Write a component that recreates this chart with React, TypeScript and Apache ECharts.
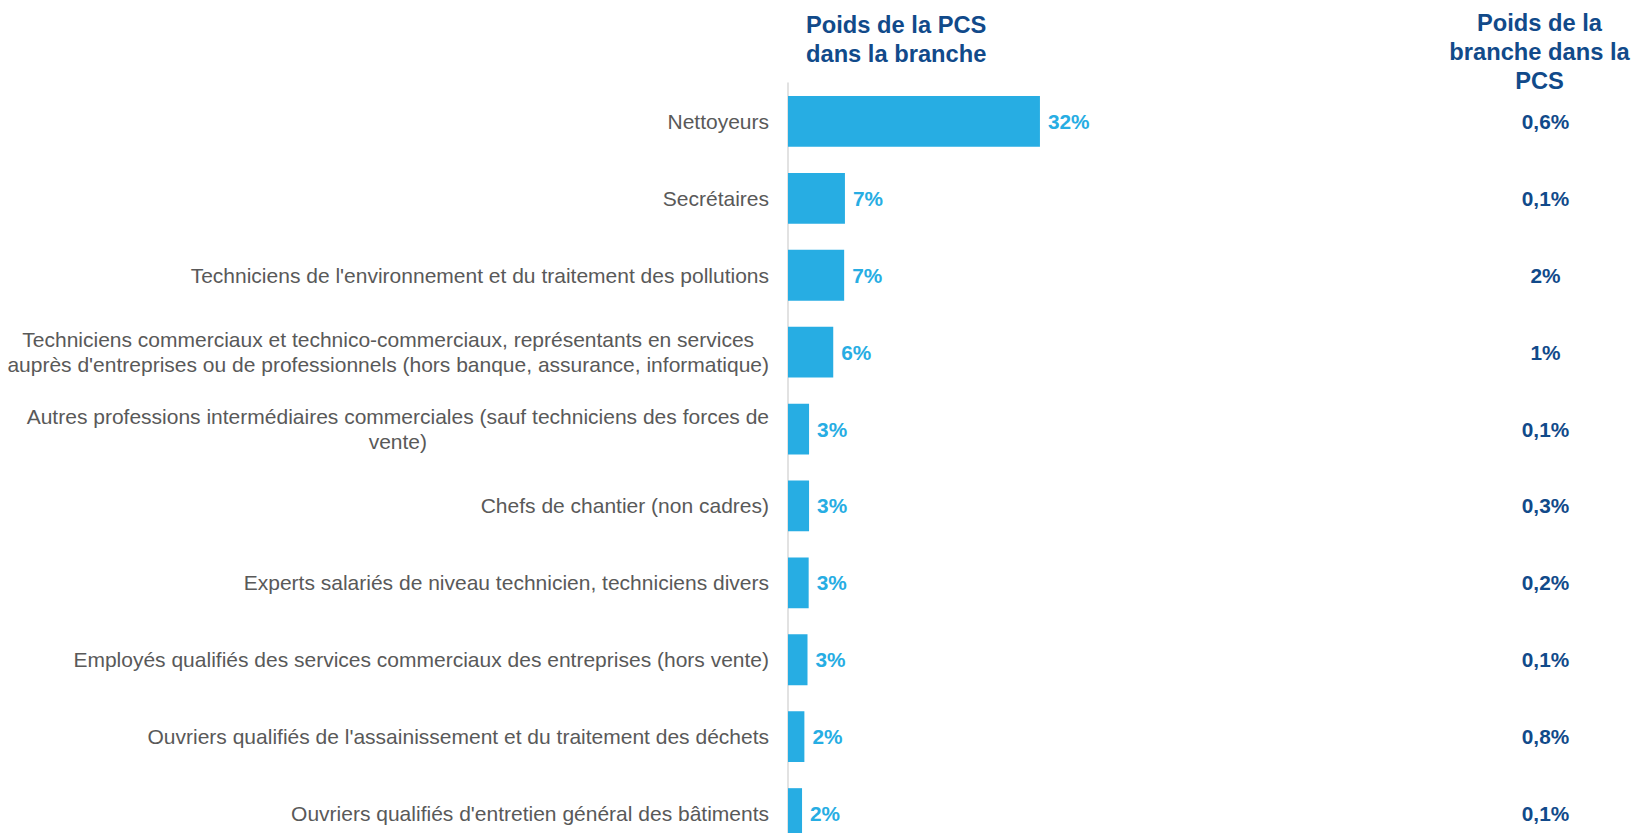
import React, { useEffect, useRef } from "react";
import * as echarts from "echarts";

const categories = [
  "Nettoyeurs",
  "Secrétaires",
  "Techniciens de l'environnement et du traitement des pollutions",
  "Techniciens commerciaux et technico-commerciaux, représentants en services\nauprès d'entreprises ou de professionnels (hors banque, assurance, informatique)",
  "Autres professions intermédiaires commerciales (sauf techniciens des forces de\nvente)",
  "Chefs de chantier (non cadres)",
  "Experts salariés de niveau technicien, techniciens divers",
  "Employés qualifiés des services commerciaux des entreprises (hors vente)",
  "Ouvriers qualifiés de l'assainissement et du traitement des déchets",
  "Ouvriers qualifiés d'entretien général des bâtiments",
];

// Poids de la PCS dans la branche (%)
const pcsInBranche = [32.3, 7.3, 7.2, 5.8, 2.7, 2.7, 2.65, 2.5, 2.1, 1.8];

// Poids de la branche dans la PCS (texte affiché)
const brancheInPcs = ["0,6%", "0,1%", "2%", "1%", "0,1%", "0,3%", "0,2%", "0,1%", "0,8%", "0,1%"];

const header1 = "Poids de la PCS\ndans la branche";
const header2 = "Poids de la\nbranche dans la\nPCS";

const FONT = "'Liberation Sans', Arial, Helvetica, sans-serif";
const DARK_BLUE = "#114A8A";
const BAR_BLUE = "#27ADE3";
const GREY_TEXT = "#595959";

export default function App() {
  const ref = useRef<HTMLDivElement>(null);

  useEffect(() => {
    document.body.style.margin = "0";
    if (!ref.current) return;
    const chart = echarts.init(ref.current, null, { renderer: "svg" });
    chart.setOption({
      animation: false,
      backgroundColor: "#ffffff",
      textStyle: { fontFamily: FONT },
      grid: {
        left: 788,
        top: 83,
        width: 312,
        height: 769,
        containLabel: false,
        outerBoundsMode: "none",
      },
      xAxis: {
        type: "value",
        min: 0,
        max: 40,
        show: false,
      },
      yAxis: [
        {
          type: "category",
          inverse: true,
          data: categories,
          axisLine: { show: true, lineStyle: { color: "#D9D9D9", width: 1.5 } },
          axisTick: { show: false },
          splitLine: { show: false },
          axisLabel: {
            margin: 19,
            align: "right",
            color: GREY_TEXT,
            fontSize: 21,
            fontFamily: FONT,
            lineHeight: 25,
            formatter: (v: string) =>
              v
                .split("\n")
                .map((l) => `{c|${l}}`)
                .join("\n"),
            rich: {
              c: {
                align: "center",
                color: GREY_TEXT,
                fontSize: 21,
                fontFamily: FONT,
                lineHeight: 25,
              },
            },
          },
        },
        {
          type: "category",
          inverse: true,
          position: "right",
          data: brancheInPcs,
          axisLine: { show: false },
          axisTick: { show: false },
          splitLine: { show: false },
          axisLabel: {
            margin: 445.5,
            align: "center",
            color: DARK_BLUE,
            fontSize: 20.8,
            fontWeight: "bold",
            fontFamily: FONT,
          },
        },
      ],
      series: [
        {
          type: "bar",
          yAxisIndex: 0,
          data: pcsInBranche,
          barWidth: "66%",
          itemStyle: { color: BAR_BLUE },
          label: {
            show: true,
            position: "right",
            distance: 8,
            color: BAR_BLUE,
            fontSize: 20.8,
            fontWeight: "bold",
            fontFamily: FONT,
            formatter: (p: any) => `${Math.round(p.value)}%`,
          },
        },
      ],
      graphic: [
        {
          type: "text",
          x: 806,
          y: 10,
          style: {
            text: header1,
            fill: DARK_BLUE,
            fontSize: 23.7,
            fontWeight: "bold",
            fontFamily: FONT,
            lineHeight: 29,
            align: "left",
            verticalAlign: "top",
          },
        },
        {
          type: "text",
          x: 1539.5,
          y: 9,
          style: {
            text: header2,
            fill: DARK_BLUE,
            fontSize: 23.7,
            fontWeight: "bold",
            fontFamily: FONT,
            lineHeight: 28.8,
            align: "center",
            verticalAlign: "top",
          },
        },
      ],
    });
    return () => chart.dispose();
  }, []);

  return <div ref={ref} style={{ width: 1632, height: 833 }} />;
}
